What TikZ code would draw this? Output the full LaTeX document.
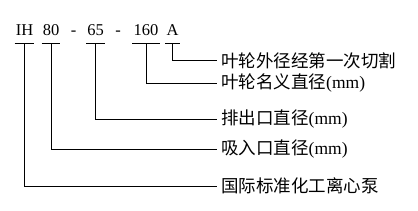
\documentclass[tikz,border=0pt]{standalone}
\usepackage{fontspec}
\newfontfamily\cjk{Noto Sans CJK SC}
\newfontfamily\serf{Liberation Serif}
\newcommand{\mmunit}{{\serf(mm)}}
\begin{document}
\begin{tikzpicture}[x=1pt,y=-1pt,
  code/.style={font=\serf\fontsize{16.5}{16.5}\selectfont, anchor=base, inner xsep=0pt,
    inner ysep=0pt, text height=11pt, text depth=7pt},
  lab/.style={font=\cjk\fontsize{17.5}{17.5}\selectfont, anchor=west, inner xsep=4pt, inner ysep=0pt},
  wire/.style={line width=0.9pt, black}]
\useasboundingbox (0,0) rectangle (418,211);
% code segments
\node[code] (ih) at (24.5,36) {IH};
\node[code] (n80) at (51,36) {80};
\node[code] (d1) at (73.5,36) {-};
\node[code] (n65) at (95.5,36) {65};
\node[code] (d2) at (118,36) {-};
\node[code] (n160) at (146,36) {160};
\node[code] (a) at (172.5,36) {A};
% labels
\node[lab] (la) at (217,60.5) {叶轮外径经第一次切割};
\node[lab] (l160) at (217,83) {叶轮名义直径\mmunit};
\node[lab] (l65) at (217,119) {排出口直径\mmunit};
\node[lab] (l80) at (217,149.5) {吸入口直径\mmunit};
\node[lab] (lih) at (217,186) {国际标准化工离心泵};
% underlines
\foreach \n in {ih,n80,n65,n160,a}
  \draw[wire] ([xshift=-1pt]\n.south west) -- ([xshift=1pt]\n.south east);
% connectors
\draw[wire] (a.south) |- (la.west);
\draw[wire] (n160.south) |- (l160.west);
\draw[wire] (n65.south) |- (l65.west);
\draw[wire] (n80.south) |- (l80.west);
\draw[wire] (ih.south) |- (lih.west);
\end{tikzpicture}
\end{document}
